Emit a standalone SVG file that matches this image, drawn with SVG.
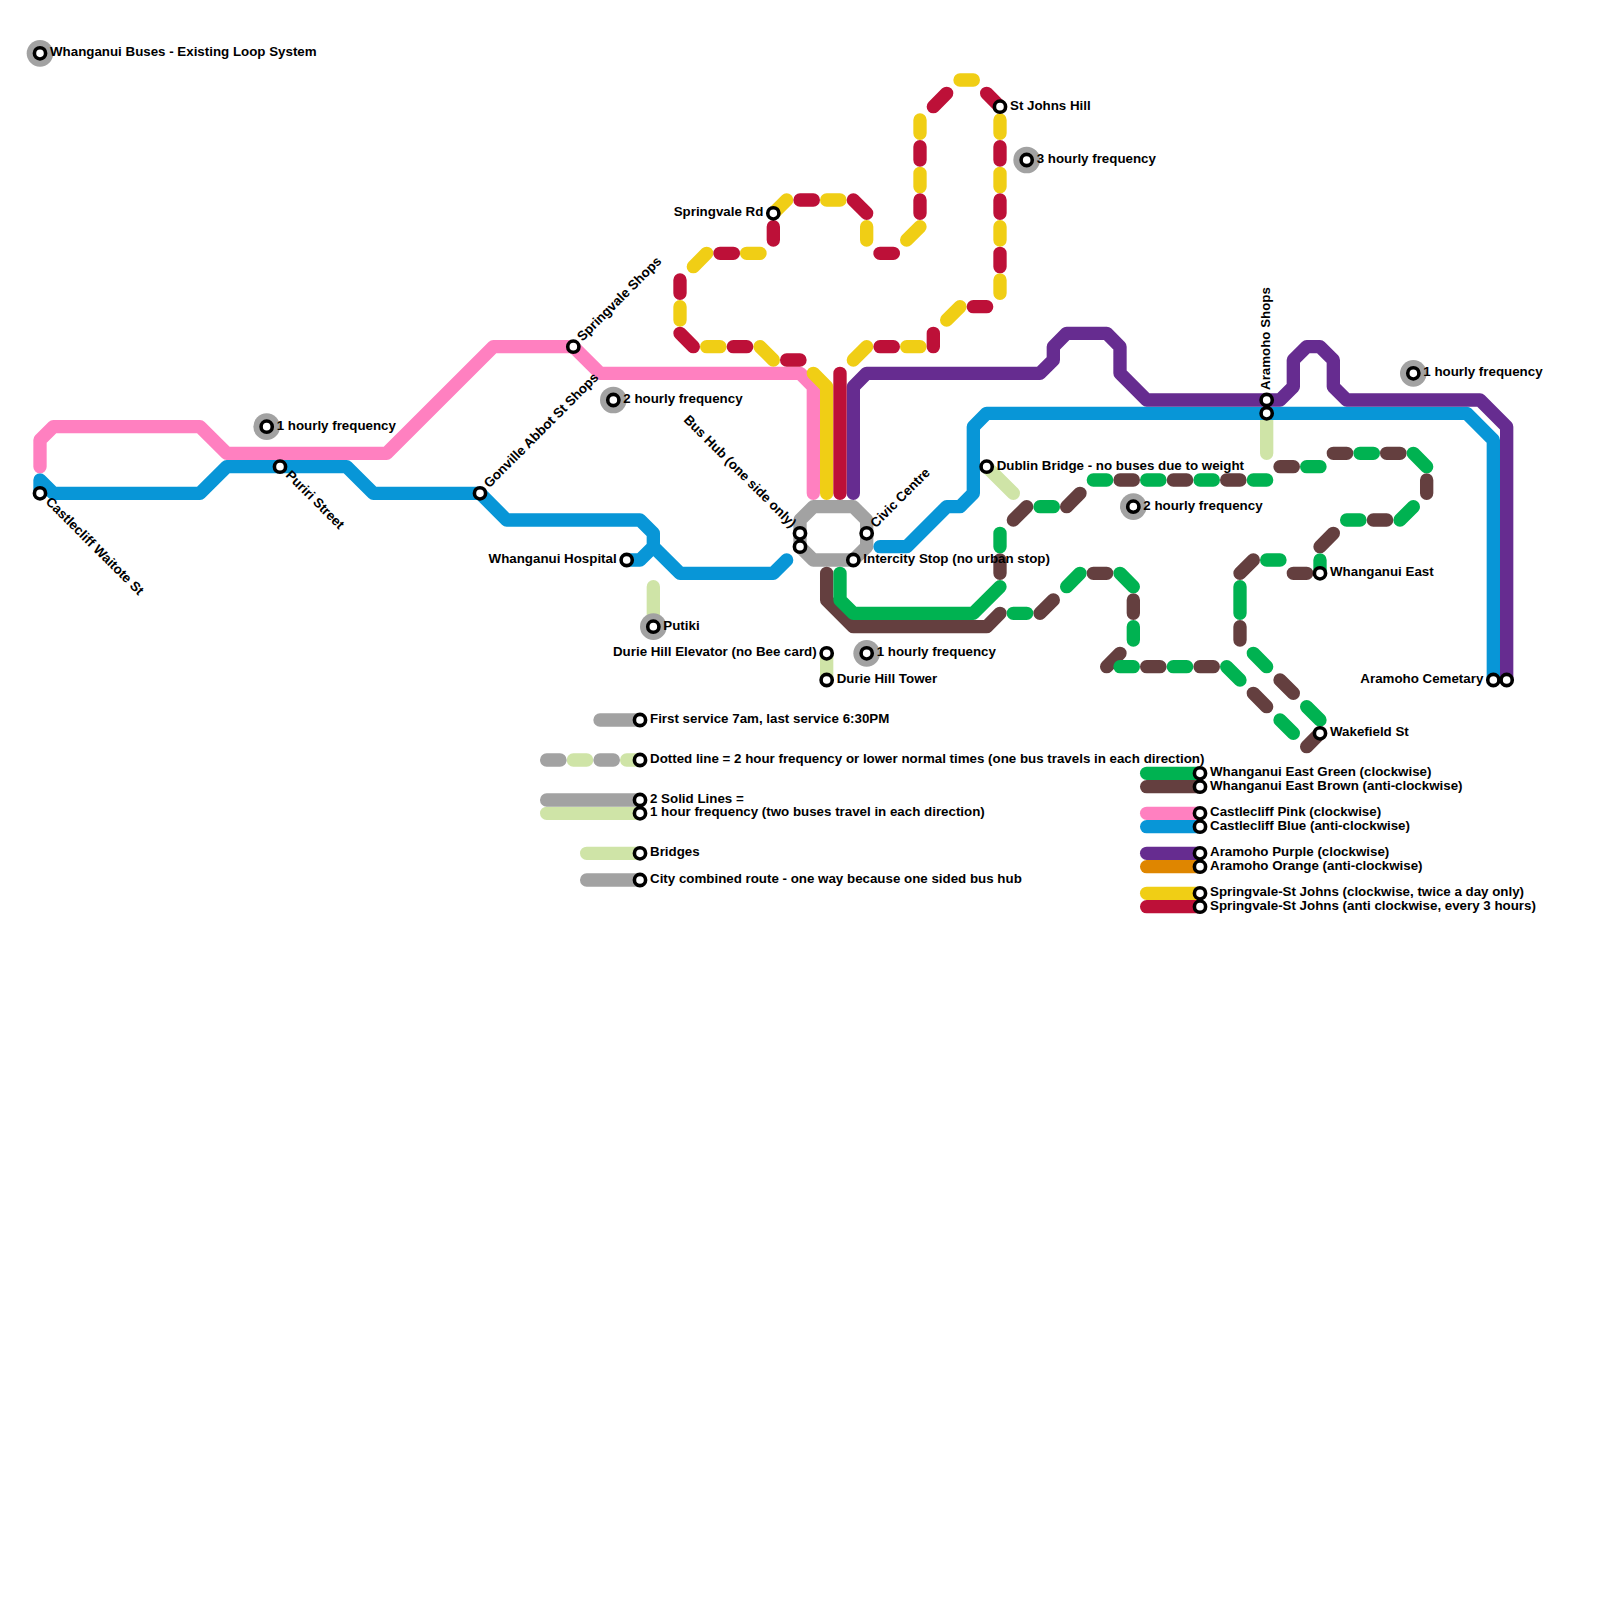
<svg xmlns="http://www.w3.org/2000/svg" width="1600" height="1600" viewBox="0 0 1600 1600">
<style>
.l{fill:none;stroke-width:1;stroke-linecap:round;stroke-linejoin:round}
.pink{stroke:#ff80c0}.blue{stroke:#0896d7}.purple{stroke:#662c90}.yellow{stroke:#f0ce15}.red{stroke:#bd1038}.green{stroke:#00b251}.brown{stroke:#643f3f}.pale{stroke:#cfe4a7}.gray{stroke:#a2a2a2}.orange{stroke:#df8600}
.st{fill:#fff;stroke:#000;stroke-width:3.6}
.halo{fill:#a2a2a2}
text{font-family:"Liberation Sans",Arial,sans-serif;font-weight:700;font-size:13.33px;fill:#000}
.e{text-anchor:end}
</style>
<rect width="1600" height="1600" fill="#fff"/>
<g id="connectors" transform="scale(13.33333)">
<path class="l pale" d="M74 35L76 37M49 44V47M62 49V51M95 31V34"/>
<path class="l pale" d="M43 57H44M47 57H48M41 61H48M44 64H48"/>
<path class="l gray" d="M45 54H48M41 57H42M45 57H46M41 60H48M44 66H48"/>
<path class="l gray" d="M61 38H64L65 39V41L64 42H61L60 41V39Z"/>
<path class="l blue" d="M3 37V36L4 37H15L17 35H26L28 37H36L38 39H48L49 40V41L51 43H58L59 42M47 42H48L49 41M66 41H68L71 38H72L73 37V32L74 31H110L112 33V51"/>
<path class="l pink" d="M3 35V33L4 32H15L17 34H29L37 26H43L45 28H60L61 29V37"/>
<path class="l purple" d="M64 37V29L65 28H78L79 27V26L80 25H83L84 26V28L86 30H96L97 29V27L98 26H99L100 27V29L101 30H111L113 32V51"/>
<path class="l yellow" d="M61 28L62 29V37M64 27L65 26M68 26H69M71 24L72 23M75 22V21M75 18V17M75 14V13M75 10V9M72 6H73M69 10V9M69 14V13M69 17L68 18M65 17V18M62 15H63M59 15L58 16M56 19H57M53 19L52 20M51 23V24M53 26H54M57 26L58 27"/>
<path class="l red" d="M63 28V37M66 26H67M70 25V26M73 23H74M75 20V19M75 16V15M75 12V11M75 8L74 7M71 7L70 8M69 11V12M69 15V16M66 19H67M64 15L65 16M60 15H61M58 17V18M54 19H55M51 21V22M51 25L52 26M55 26H56M59 27H60"/>
<path class="l brown" d="M62 43V45L64 47H74L75 46M78 46L79 45M82 43H83M85 45V46M84 49L83 50M86 50H87M90 50H91M94 52L95 53M98 56L99 55M93 47V48M96 51L97 52M93 43L94 42M97 43H98M100 40L99 41M103 39H104M107 36V37M100 34H101M104 34H105M96 35H97M84 36H85M88 36H89M92 36H93M81 37L80 38M77 38L76 39M75 42V43"/>
<path class="l green" d="M63 43V45L64 46H73L75 44M76 46H77M81 43L80 44M84 43L85 44M85 47V48M84 50H85M88 50H89M92 50L93 51M96 54L97 55M94 49L95 50M98 53L99 54M93 44V46M95 42H96M99 42V43M101 39H102M106 38L105 39M106 34L107 35M102 34H103M98 35H99M94 36H95M90 36H91M86 36H87M82 36H83M78 38H79M75 40V41"/>
<path class="l green" d="M86 58H90"/><path class="l brown" d="M86 59H90"/>
<path class="l pink" d="M86 61H90"/><path class="l blue" d="M86 62H90"/>
<path class="l purple" d="M86 64H90"/><path class="l orange" d="M86 65H90"/>
<path class="l yellow" d="M86 67H90"/><path class="l red" d="M86 68H90"/>
</g>
<g id="n-title"><circle class="halo" cx="40" cy="53.33" r="13.33"/><circle class="st" cx="40" cy="53.33" r="5.6"/><text x="50" y="56.33">Whanganui Buses - Existing Loop System</text></g>
<g id="n-castlecliff"><circle class="st" cx="40" cy="493.33" r="5.6"/><text transform="translate(40 493.33) rotate(45)" x="10" y="3">Castlecliff Waitote St</text></g>
<g id="n-puriri"><circle class="st" cx="280" cy="466.67" r="5.6"/><text transform="translate(280 466.67) rotate(45)" x="10" y="3">Puriri Street</text></g>
<g id="n-freq1a"><circle class="halo" cx="266.67" cy="426.67" r="13.33"/><circle class="st" cx="266.67" cy="426.67" r="5.6"/><text x="276.67" y="429.67">1 hourly frequency</text></g>
<g id="n-gonville"><circle class="st" cx="480" cy="493.33" r="5.6"/><text transform="translate(480 493.33) rotate(-45)" x="10" y="3">Gonville Abbot St Shops</text></g>
<g id="n-springshops"><circle class="st" cx="573.33" cy="346.67" r="5.6"/><text transform="translate(573.33 346.67) rotate(-45)" x="10" y="3">Springvale Shops</text></g>
<g id="n-freq2a"><circle class="halo" cx="613.33" cy="400" r="13.33"/><circle class="st" cx="613.33" cy="400" r="5.6"/><text x="623.33" y="403">2 hourly frequency</text></g>
<g id="n-hospital"><circle class="st" cx="626.67" cy="560" r="5.6"/><text class="e" x="616.67" y="563">Whanganui Hospital</text></g>
<g id="n-putiki"><circle class="halo" cx="653.33" cy="626.67" r="13.33"/><circle class="st" cx="653.33" cy="626.67" r="5.6"/><text x="663.33" y="629.67">Putiki</text></g>
<g id="n-springrd"><circle class="st" cx="773.33" cy="213.33" r="5.6"/><text class="e" x="763.33" y="216.33">Springvale Rd</text></g>
<g id="n-bushub"><circle class="st" cx="800" cy="533.33" r="5.6"/><text class="e" transform="translate(800 533.33) rotate(45)" x="-10" y="3">Bus Hub (one side only)</text></g>
<g id="n-bushub2"><circle class="st" cx="800" cy="546.67" r="5.6"/></g>
<g id="n-civic"><circle class="st" cx="866.67" cy="533.33" r="5.6"/><text transform="translate(866.67 533.33) rotate(-45)" x="10" y="3">Civic Centre</text></g>
<g id="n-intercity"><circle class="st" cx="853.33" cy="560" r="5.6"/><text x="863.33" y="563">Intercity Stop (no urban stop)</text></g>
<g id="n-elevator"><circle class="st" cx="826.67" cy="653.33" r="5.6"/><text class="e" x="816.67" y="656.33">Durie Hill Elevator (no Bee card)</text></g>
<g id="n-tower"><circle class="st" cx="826.67" cy="680" r="5.6"/><text x="836.67" y="683">Durie Hill Tower</text></g>
<g id="n-freq1b"><circle class="halo" cx="866.67" cy="653.33" r="13.33"/><circle class="st" cx="866.67" cy="653.33" r="5.6"/><text x="876.67" y="656.33">1 hourly frequency</text></g>
<g id="n-dublin"><circle class="st" cx="986.67" cy="466.67" r="5.6"/><text x="996.67" y="469.67">Dublin Bridge - no buses due to weight</text></g>
<g id="n-stjohns"><circle class="st" cx="1000" cy="106.67" r="5.6"/><text x="1010" y="109.67">St Johns Hill</text></g>
<g id="n-freq3"><circle class="halo" cx="1026.67" cy="160" r="13.33"/><circle class="st" cx="1026.67" cy="160" r="5.6"/><text x="1036.67" y="163">3 hourly frequency</text></g>
<g id="n-freq2b"><circle class="halo" cx="1133.33" cy="506.67" r="13.33"/><circle class="st" cx="1133.33" cy="506.67" r="5.6"/><text x="1143.33" y="509.67">2 hourly frequency</text></g>
<g id="n-aramohoshops"><circle class="st" cx="1266.67" cy="400" r="5.6"/><text transform="translate(1266.67 400) rotate(-90)" x="10" y="3">Aramoho Shops</text></g>
<g id="n-aramohoshops2"><circle class="st" cx="1266.67" cy="413.33" r="5.6"/></g>
<g id="n-freq1c"><circle class="halo" cx="1413.33" cy="373.33" r="13.33"/><circle class="st" cx="1413.33" cy="373.33" r="5.6"/><text x="1423.33" y="376.33">1 hourly frequency</text></g>
<g id="n-east"><circle class="st" cx="1320" cy="573.33" r="5.6"/><text x="1330" y="576.33">Whanganui East</text></g>
<g id="n-wakefield"><circle class="st" cx="1320" cy="733.33" r="5.6"/><text x="1330" y="736.33">Wakefield St</text></g>
<g id="n-cemetary"><circle class="st" cx="1493.33" cy="680" r="5.6"/><text class="e" x="1483.33" y="683">Aramoho Cemetary</text></g>
<g id="n-cemetary2"><circle class="st" cx="1506.67" cy="680" r="5.6"/></g>
<g id="k-first"><circle class="st" cx="640" cy="720" r="5.6"/><text x="650" y="723">First service 7am, last service 6:30PM</text></g>
<g id="k-dotted"><circle class="st" cx="640" cy="760" r="5.6"/><text x="650" y="763">Dotted line = 2 hour frequency or lower normal times (one bus travels in each direction)</text></g>
<g id="k-solid1"><circle class="st" cx="640" cy="800" r="5.6"/><text x="650" y="803">2 Solid Lines =</text></g>
<g id="k-solid2"><circle class="st" cx="640" cy="813.33" r="5.6"/><text x="650" y="816.33">1 hour frequency (two buses travel in each direction)</text></g>
<g id="k-bridges"><circle class="st" cx="640" cy="853.33" r="5.6"/><text x="650" y="856.33">Bridges</text></g>
<g id="k-city"><circle class="st" cx="640" cy="880" r="5.6"/><text x="650" y="883">City combined route - one way because one sided bus hub</text></g>
<g id="k-green"><circle class="st" cx="1200" cy="773.33" r="5.6"/><text x="1210" y="776.33">Whanganui East Green (clockwise)</text></g>
<g id="k-brown"><circle class="st" cx="1200" cy="786.67" r="5.6"/><text x="1210" y="789.67">Whanganui East Brown (anti-clockwise)</text></g>
<g id="k-pink"><circle class="st" cx="1200" cy="813.33" r="5.6"/><text x="1210" y="816.33">Castlecliff Pink (clockwise)</text></g>
<g id="k-blue"><circle class="st" cx="1200" cy="826.67" r="5.6"/><text x="1210" y="829.67">Castlecliff Blue (anti-clockwise)</text></g>
<g id="k-purple"><circle class="st" cx="1200" cy="853.33" r="5.6"/><text x="1210" y="856.33">Aramoho Purple (clockwise)</text></g>
<g id="k-orange"><circle class="st" cx="1200" cy="866.67" r="5.6"/><text x="1210" y="869.67">Aramoho Orange (anti-clockwise)</text></g>
<g id="k-yellow"><circle class="st" cx="1200" cy="893.33" r="5.6"/><text x="1210" y="896.33">Springvale-St Johns (clockwise, twice a day only)</text></g>
<g id="k-red"><circle class="st" cx="1200" cy="906.67" r="5.6"/><text x="1210" y="909.67">Springvale-St Johns (anti clockwise, every 3 hours)</text></g>
</svg>
